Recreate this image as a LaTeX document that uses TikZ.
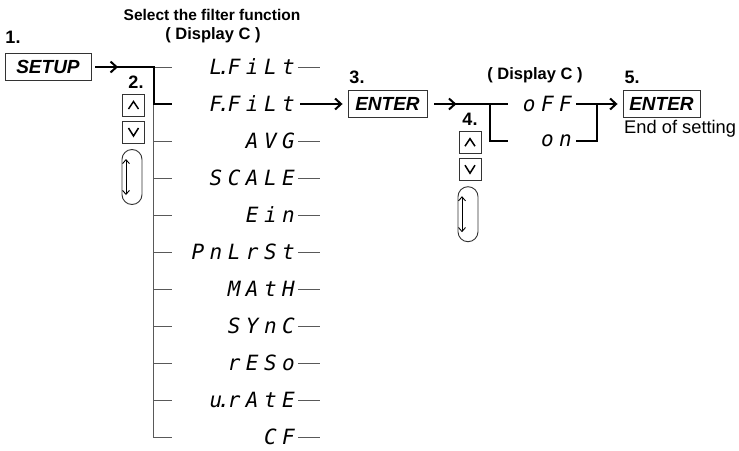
\documentclass[tikz,border=0pt]{standalone}
\usepackage{fontspec}
\setmainfont{Liberation Sans}
\newfontfamily\segfont[LetterSpace=26]{DejaVu Sans Mono}
\newcommand\sdot{\rlap{\kern-0.22em.}\kern0.26em}
\usetikzlibrary{arrows.meta}
\begin{document}
\begin{tikzpicture}[x=1pt,y=-1pt,
  thickln/.style={line width=2.2pt, black},
  thinln/.style={line width=0.9pt, black!65},
  tip/.style={-{Straight Barb[length=6pt,width=11pt,line width=2pt]}},
  keybox/.style={draw=black!80, line width=0.9pt, inner sep=0pt, minimum height=27pt,
    font=\fontsize{19}{21}\selectfont\bfseries\itshape},
  btn/.style={draw=black!80, line width=0.9pt, inner sep=0pt, minimum width=22pt, minimum height=22pt},
  oval/.style={draw=black!80, line width=0.9pt, inner sep=0pt, rounded corners=10pt, minimum width=20pt, minimum height=55pt},
  chev/.style={line width=1.5pt, black},
  seg/.style={anchor=east, inner sep=0pt, font=\fontsize{21}{23}\selectfont\segfont\itshape},
  steplbl/.style={font=\fontsize{18}{20}\selectfont\bfseries, inner sep=0pt},
  hdr/.style={font=\fontsize{15.5}{17}\selectfont\bfseries, inner sep=0pt},
  note/.style={font=\fontsize{18.3}{20}\selectfont, inner sep=0pt, anchor=west}
]
\useasboundingbox (0,0) rectangle (739,450);

% headers
\node[hdr] (title) at (212,15) {Select the filter function};
\node[hdr, font=\fontsize{16.5}{18}\selectfont\bfseries] (disp1) at (213,35) {( Display C )};
\node[hdr, font=\fontsize{16.5}{18}\selectfont\bfseries] (disp2) at (535,75) {( Display C )};

% step labels
\node[steplbl] (s1) at (13,37) {1.};
\node[steplbl] (s2) at (136,82) {2.};
\node[steplbl] (s3) at (357,77) {3.};
\node[steplbl] (s4) at (470,119) {4.};
\node[steplbl] (s5) at (632,77) {5.};

% keys
\node[keybox, minimum width=86pt] (setup) at (48,67) {SETUP};
\node[keybox, minimum width=79pt] (enter3) at (387.5,104) {ENTER};
\node[keybox, minimum width=77pt] (enter5) at (661.5,104) {ENTER};
\node[note] (end) at (624,129) {End of setting};

% step 2 buttons
\node[btn] (up2) at (133.5,105.5) {};
\node[btn] (dn2) at (133.5,132) {};
\node[oval] (ov2) at (132,177) {};
% step 4 buttons
\node[btn] (up4) at (470,142.7) {};
\node[btn] (dn4) at (470,169.2) {};
\node[oval] (ov4) at (468,214.2) {};

\foreach \b in {up2,up4}{
  \draw[chev] ([xshift=-5pt,yshift=-3.5pt]\b.center) -- ([yshift=4pt]\b.center) -- ([xshift=5pt,yshift=-3.5pt]\b.center);
}
\foreach \b in {dn2,dn4}{
  \draw[chev] ([xshift=-5pt,yshift=4pt]\b.center) -- ([yshift=-4pt]\b.center) -- ([xshift=5pt,yshift=4pt]\b.center);
}
\foreach \o in {ov2,ov4}{
  \draw[line width=0.9pt, {Straight Barb[length=4pt,width=7pt]}-{Straight Barb[length=4pt,width=7pt]}]
    ([xshift=-6pt,yshift=18pt]\o.center) -- ([xshift=-6pt,yshift=-18pt]\o.center);
}

% menu items
\node[seg] (r0) at (295,67) {L\sdot FiLt};
\node[seg] (r1) at (295,104) {F\sdot FiLt};
\node[seg] (r2) at (295,141) {AVG};
\node[seg] (r3) at (295,178) {SCALE};
\node[seg] (r4) at (295,215) {Ein};
\node[seg] (r5) at (295,252) {PnLrSt};
\node[seg] (r6) at (295,289) {MAtH};
\node[seg] (r7) at (295,326) {SYnC};
\node[seg] (r8) at (295,363) {rESo};
\node[seg] (r9) at (295,400) {u\sdot rAtE};
\node[seg] (r10) at (295,437) {CF};

\node[seg] (off) at (572,104) {oFF};
\node[seg] (on) at (572,141) {on};

% tree (thin)
\coordinate (vt) at (153,67);
\coordinate (vb) at (153,437);
\draw[thinln] (vt) -- (vb);
\foreach \i in {0,...,10}{
  \draw[thinln] (vt |- r\i) -- (172,0 |- r\i);
}
\foreach \i in {0,2,3,4,5,6,7,8,9,10}{
  \draw[thinln] (298,0 |- r\i) -- (320,0 |- r\i);
}

% thick selection path
\coordinate (j1) at (154,67);
\coordinate (j1b) at (154,104);
\coordinate (b1) at (172,104);
\draw[thickln, tip] ([xshift=4pt]setup.east) -- (118,67);
\draw[thickln] (112,67) -- (j1) -- (j1b) -- (b1);
\draw[thickln, tip] (300,104) -- ([xshift=-5pt]enter3.west);

% step 3 -> 4
\coordinate (j2) at (490,104);
\coordinate (j2b) at (490,141);
\draw[thickln, tip] ([xshift=7pt]enter3.east) -- ++(22,0);
\draw[thickln] (449,104) -- (508,104);
\draw[thickln] (j2) -- (j2b) -- (508,141);

% step 4 -> 5
\coordinate (j3) at (597,104);
\coordinate (j3b) at (597,141);
\draw[thickln, tip] (576,104) -- ([xshift=-5pt]enter5.west);
\draw[thickln] (576,141) -- (j3b) -- (j3);
\end{tikzpicture}
\end{document}
